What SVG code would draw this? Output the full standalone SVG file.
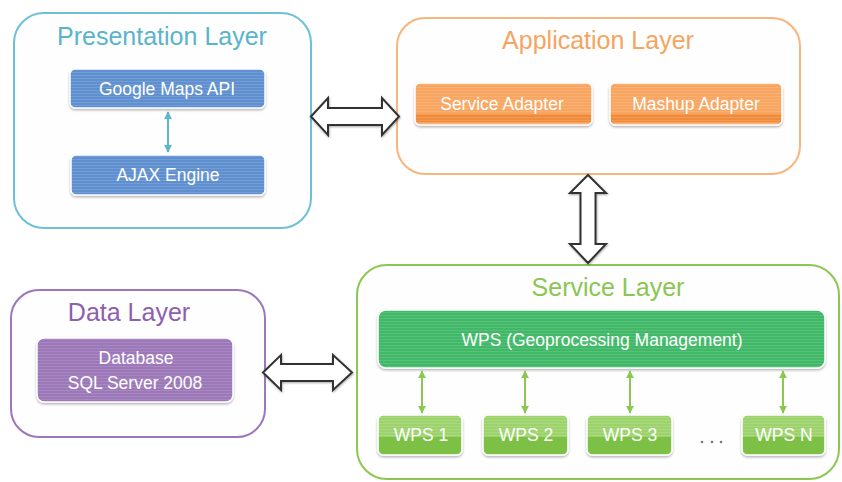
<svg xmlns="http://www.w3.org/2000/svg" width="842" height="482" viewBox="0 0 842 482">
<defs>
<style>
.layer{fill:#fefefe;stroke-width:2}
.title{font-family:"Liberation Sans",Arial,sans-serif;font-size:25px;text-anchor:middle}
.lbl{font-family:"Liberation Sans",Arial,sans-serif;font-size:17.5px;fill:#ffffff;text-anchor:middle}
.inner{stroke:#ffffff;stroke-width:1.5;filter:url(#sh)}
.big{fill:#ffffff;stroke:#333333;stroke-width:2;stroke-linejoin:miter;filter:url(#sh2)}
.stripe{fill:url(#stripes);pointer-events:none}
</style>
<filter id="sh" x="-10%" y="-20%" width="120%" height="150%">
<feDropShadow dx="0" dy="1.5" stdDeviation="1.2" flood-color="#000" flood-opacity="0.3"/>
</filter>
<filter id="sh2" x="-20%" y="-20%" width="140%" height="140%">
<feDropShadow dx="0.5" dy="1" stdDeviation="0.8" flood-color="#000" flood-opacity="0.35"/>
</filter>
<pattern id="stripes" width="4" height="3" patternUnits="userSpaceOnUse">
<rect x="0" y="0" width="4" height="1" fill="#ffffff" fill-opacity="0.12"/>
</pattern>
<marker id="ab" viewBox="0 0 10 10" refX="9" refY="5" markerWidth="4" markerHeight="4" orient="auto-start-reverse">
<path d="M0,0 L10,5 L0,10 Z" fill="#5ab8cc"/>
</marker>
<marker id="ag" viewBox="0 0 10 10" refX="9" refY="5" markerWidth="4" markerHeight="4" orient="auto-start-reverse">
<path d="M0,0 L10,5 L0,10 Z" fill="#8cc850"/>
</marker>
</defs>
<rect width="842" height="482" fill="#ffffff"/>

<g id="presentation-layer">
<rect class="layer" x="14" y="13" width="297" height="215" rx="30" stroke="#6cc0d8"/>
<text class="title" x="162" y="45" fill="#5ab4cc">Presentation Layer</text>
</g>
<g id="google-maps-api">
<rect class="inner" x="70" y="69" width="195" height="39" rx="5" fill="#5f8fcf"/>
<rect class="stripe" x="70" y="69" width="195" height="39" rx="5"/>
<text class="lbl" x="167" y="95">Google Maps API</text>
</g>
<g id="ajax-engine">
<rect class="inner" x="71" y="155" width="194" height="40" rx="5" fill="#5f8fcf"/>
<rect class="stripe" x="71" y="155" width="194" height="40" rx="5"/>
<text class="lbl" x="168" y="181">AJAX Engine</text>
</g>

<g id="application-layer">
<rect class="layer" x="397" y="18" width="403" height="156" rx="28" stroke="#f8b57e"/>
<text class="title" x="598" y="49" fill="#f5a462">Application Layer</text>
</g>
<g id="service-adapter">
<rect class="inner" x="415" y="83" width="177" height="42" rx="5" fill="#f7a560"/>
<rect x="416" y="114" width="175" height="8" fill="#f08b3c"/>
<rect class="stripe" x="415" y="83" width="177" height="42" rx="5"/>
<text class="lbl" x="502" y="110">Service Adapter</text>
</g>
<g id="mashup-adapter">
<rect class="inner" x="610" y="83" width="172" height="42" rx="5" fill="#f7a560"/>
<rect x="611" y="114" width="170" height="8" fill="#f08b3c"/>
<rect class="stripe" x="610" y="83" width="172" height="42" rx="5"/>
<text class="lbl" x="696" y="110">Mashup Adapter</text>
</g>

<g id="data-layer">
<rect class="layer" x="11" y="290" width="254" height="147" rx="28" stroke="#9e76bc"/>
<text class="title" x="129" y="321" fill="#8e5fae">Data Layer</text>
</g>
<g id="database">
<rect class="inner" x="37" y="338" width="196" height="64" rx="7" fill="#9c78b8"/>
<rect class="stripe" x="37" y="338" width="196" height="64" rx="7"/>
<text class="lbl" x="136" y="364">Database</text>
<text class="lbl" x="135" y="389">SQL Server 2008</text>
</g>

<g id="service-layer">
<rect class="layer" x="357" y="265" width="482" height="214" rx="30" stroke="#8cc850"/>
<text class="title" x="608" y="296" fill="#8ac654">Service Layer</text>
</g>
<g id="wps-management">
<rect class="inner" x="378" y="310" width="447" height="58" rx="8" fill="#40b868"/>
<rect class="stripe" x="378" y="310" width="447" height="58" rx="8"/>
<text class="lbl" x="602" y="346">WPS (Geoprocessing Management)</text>
</g>
<g id="wps-1">
<rect class="inner" x="378" y="415" width="84" height="40" rx="5" fill="#9dd36c"/>
<path d="M379,437 H461 V449 Q461,454 456,454 H384 Q379,454 379,449 Z" fill="#7cc145"/>
<rect class="stripe" x="378" y="415" width="84" height="22" rx="5"/>
<text class="lbl" x="421" y="441">WPS 1</text>
</g>
<g id="wps-2">
<rect class="inner" x="483" y="415" width="85" height="40" rx="5" fill="#9dd36c"/>
<path d="M484,437 H567 V449 Q567,454 562,454 H489 Q484,454 484,449 Z" fill="#7cc145"/>
<rect class="stripe" x="483" y="415" width="85" height="22" rx="5"/>
<text class="lbl" x="526" y="441">WPS 2</text>
</g>
<g id="wps-3">
<rect class="inner" x="587" y="415" width="85" height="40" rx="5" fill="#9dd36c"/>
<path d="M588,437 H671 V449 Q671,454 666,454 H593 Q588,454 588,449 Z" fill="#7cc145"/>
<rect class="stripe" x="587" y="415" width="85" height="22" rx="5"/>
<text class="lbl" x="630" y="441">WPS 3</text>
</g>
<g id="ellipsis">
<circle cx="702" cy="442" r="1.3" fill="#777"/>
<circle cx="712" cy="442" r="1.3" fill="#777"/>
<circle cx="721" cy="442" r="1.3" fill="#777"/>
</g>
<g id="wps-n">
<rect class="inner" x="742" y="415" width="83" height="40" rx="5" fill="#9dd36c"/>
<path d="M743,437 H824 V449 Q824,454 819,454 H748 Q743,454 743,449 Z" fill="#7cc145"/>
<rect class="stripe" x="742" y="415" width="83" height="22" rx="5"/>
<text class="lbl" x="784" y="441">WPS N</text>
</g>

<g id="connectors">
<line x1="168" y1="112" x2="168" y2="152" stroke="#5ab8cc" stroke-width="2" marker-start="url(#ab)" marker-end="url(#ab)"/>
<line x1="422" y1="371" x2="422" y2="413" stroke="#8cc850" stroke-width="2" marker-start="url(#ag)" marker-end="url(#ag)"/>
<line x1="525" y1="371" x2="525" y2="413" stroke="#8cc850" stroke-width="2" marker-start="url(#ag)" marker-end="url(#ag)"/>
<line x1="630" y1="371" x2="630" y2="413" stroke="#8cc850" stroke-width="2" marker-start="url(#ag)" marker-end="url(#ag)"/>
<line x1="783" y1="371" x2="783" y2="413" stroke="#8cc850" stroke-width="2" marker-start="url(#ag)" marker-end="url(#ag)"/>
<polygon class="big" points="311,116.5 328,98 328,108 382,108 382,98 399,116.5 382,135 382,125 328,125 328,135"/>
<polygon class="big" points="263,372.5 281,355 281,364 333,364 333,355 352,372.5 333,390 333,381 281,381 281,390"/>
<polygon class="big" points="588,175 606,193 595.5,193 595.5,244 606,244 588,263 570,244 580.5,244 580.5,193 570,193"/>
</g>
</svg>
